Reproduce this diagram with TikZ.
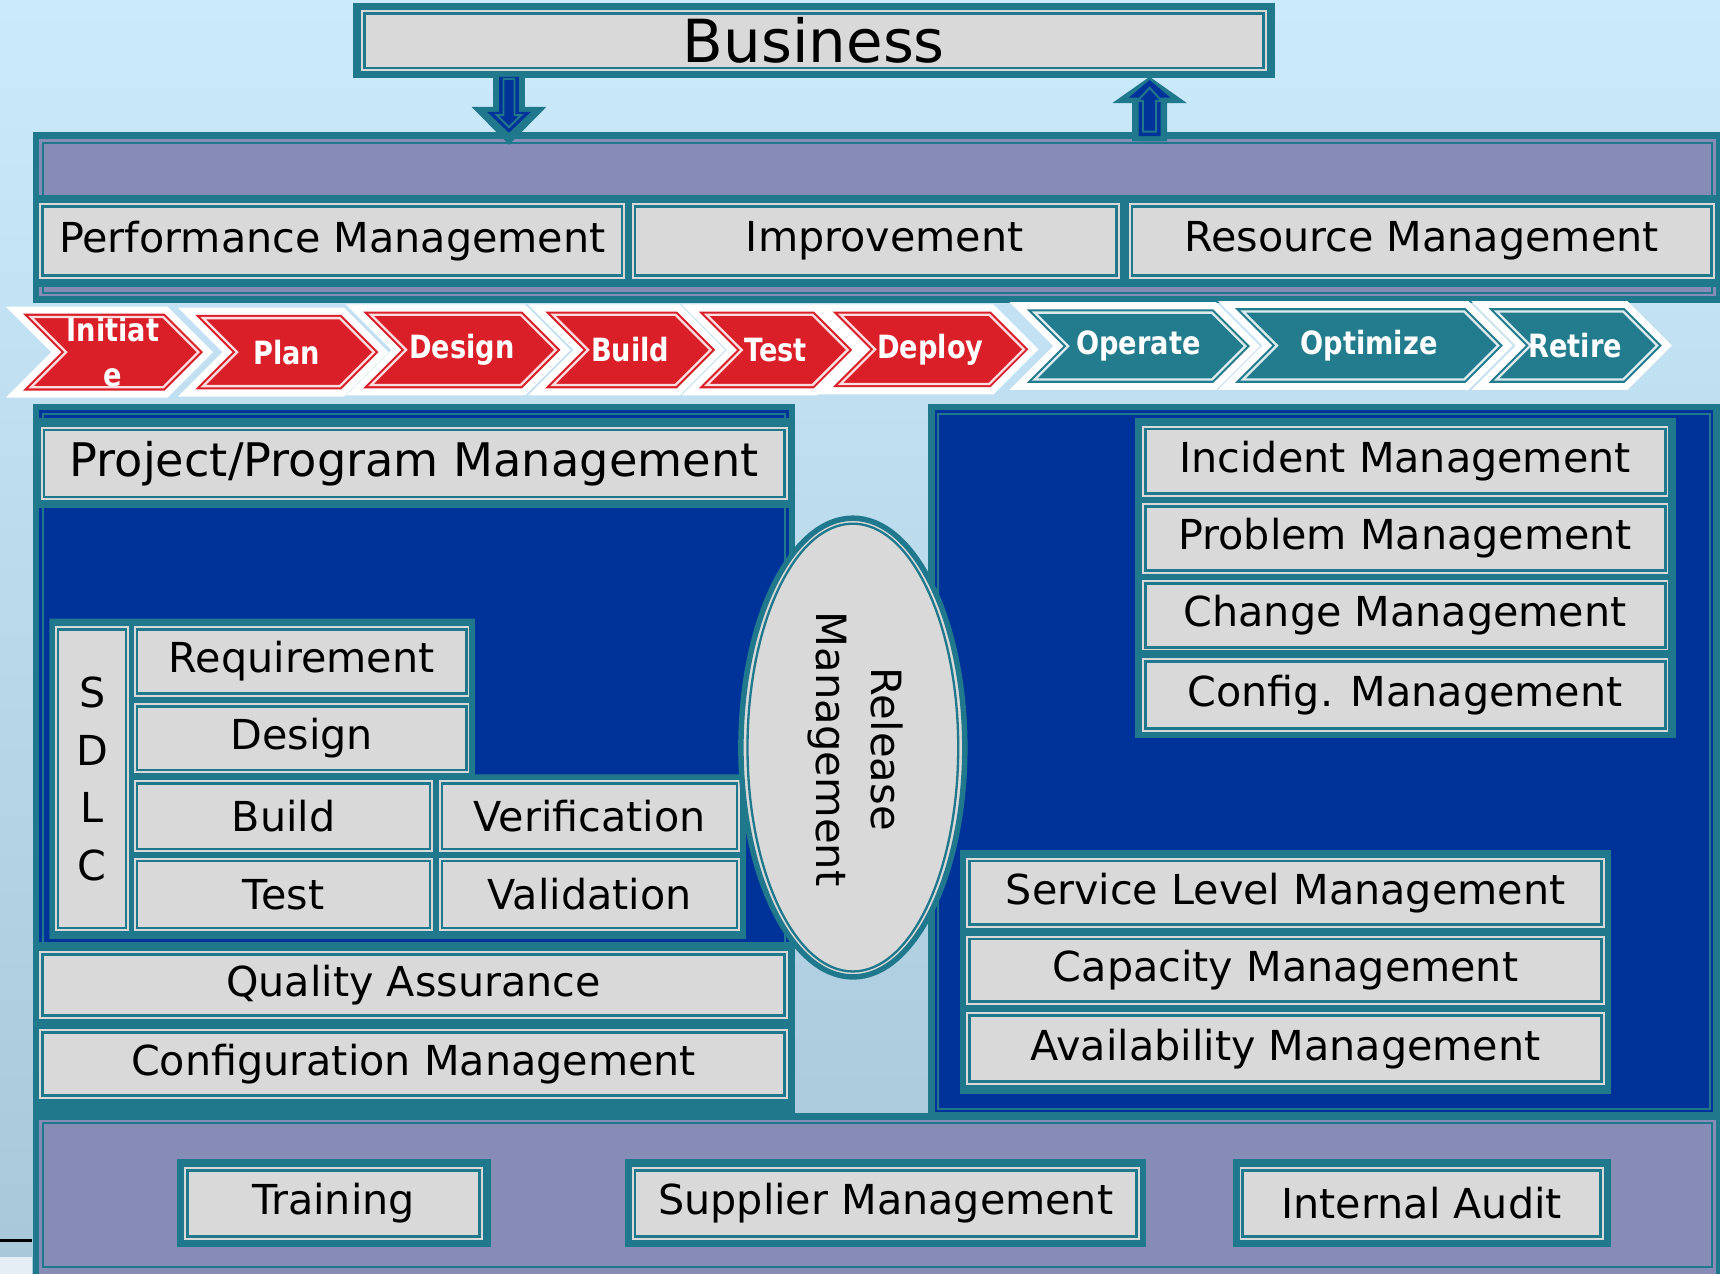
\documentclass[tikz,border=0pt]{standalone}
\usepackage{fontspec}
\setmainfont{DejaVu Sans}
\newfontfamily\chevfont{DejaVu Sans}[FakeStretch=0.85]
\usetikzlibrary{shapes.geometric}

\definecolor{frame}{RGB}{32,120,140}
\definecolor{boxgray}{RGB}{217,217,217}
\definecolor{purp}{RGB}{135,140,182}
\definecolor{dblue}{RGB}{0,51,153}
\definecolor{chred}{RGB}{218,31,40}
\definecolor{chteal}{RGB}{35,124,142}
\definecolor{bgtop}{RGB}{203,234,252}
\definecolor{bgbot}{RGB}{168,199,217}

\tikzset{
  gbox/.style={fill=boxgray, draw=none, inner sep=0pt, text=black,
    font=\fontsize{10.7}{13}\selectfont,
    path picture={\draw[frame, line width=0.7pt]
      ([shift={(0.03cm,-0.03cm)}]path picture bounding box.north west) rectangle
      ([shift={(-0.03cm,0.03cm)}]path picture bounding box.south east);}},
  chevtext/.style={text=white, inner sep=0pt, align=center,
    font=\chevfont\bfseries\fontsize{8.3}{11.7}\selectfont},
  thinframe/.style={frame, line width=0.5pt},
}

% #1 optional style, #2 name, #3 x1, #4 y1, #5 x2, #6 y2, #7 text
\newcommand\gb[7][]{%
  \node[gbox, minimum width={(#5-#3)*0.01cm}, minimum height={(#6-#4)*0.01cm}, #1]
    (#2) at ({(#3+#5)/2},{(#4+#6)/2}) {#7};}

% #1 name, #2 xL, #3 xR, #4 ytop, #5 ybot, #6 colour, #7 text
\newcommand\chev[7]{%
  \pgfmathsetmacro\ym{(#4+#5)/2}%
  \pgfmathsetmacro\dd{(#5-#4)/2}%
  \pgfmathsetmacro\xt{#3+\dd}%
  \draw[white, line width=0.13cm, line join=miter]
    (#2,#4) -- (#3,#4) -- (\xt,\ym) -- (#3,#5) -- (#2,#5) -- ({#2+\dd},\ym) -- cycle;
  \fill[#6]
    (#2,#4) -- (#3,#4) -- (\xt,\ym) -- (#3,#5) -- (#2,#5) -- ({#2+\dd},\ym) -- cycle;
  \draw[white!85!#6, line width=0.6pt, line join=miter]
    ({#2+7.2},{#4+3}) -- ({#3-1.2},{#4+3}) -- ({\xt-4.2},\ym) -- ({#3-1.2},{#5-3})
    -- ({#2+7.2},{#5-3}) -- ({#2+\dd+4.2},\ym) -- cycle;
  \node[chevtext] (#1) at ({(#2+\xt)/2},\ym) {#7};}

\begin{document}
\begin{tikzpicture}[x=0.01cm, y=-0.01cm]
\useasboundingbox (0,0) rectangle (1568,1161);
\clip (0,0) rectangle (1568,1161);
\shade[top color=bgtop, bottom color=bgbot] (0,0) rectangle (1568,1161);

% Business
\fill[frame] (322,3) rectangle (1162,71);
\gb[font=\fontsize{15.4}{18}\selectfont]{business}{329}{9}{1155}{65}{Business}

% top band
\fill[frame] (30,120) rectangle (1575,276);
\fill[purp] (36,127) rectangle (1564,270);
\draw[thinframe] (39,130) rectangle (1561,267);
\fill[frame] (30,178) rectangle (1575,262);
\gb{perf}{36}{185}{570}{254}{Performance Management}
\gb{impr}{576}{185}{1021}{254}{\hspace*{0.16cm}Improvement}
\gb{reso}{1029}{185}{1563}{254}{Resource Management}

% arrows
\fill[frame] (449.5,70) -- (478.5,70) -- (478.5,97.5) -- (498,97.5) -- (464,132)
  -- (430,97.5) -- (449.5,97.5) -- cycle;
\fill[dblue] (455,70) -- (473,70) -- (473,102) -- (484,102) -- (464,121)
  -- (444,102) -- (455,102) -- cycle;
\draw[frame, line width=0.5pt] (459,72) -- (469,72) -- (469,105) -- (475,105) -- (464,116)
  -- (453,105) -- (459,105) -- cycle;
\fill[frame] (1032,129) -- (1064,129) -- (1064,94) -- (1082,94) -- (1048,70)
  -- (1014,94) -- (1032,94) -- cycle;
\fill[dblue] (1038,124) -- (1058,124) -- (1058,89) -- (1067,89) -- (1048,73)
  -- (1029,89) -- (1038,89) -- cycle;
\draw[frame, line width=0.5pt] (1042,120) -- (1054,120) -- (1054,92) -- (1059,92) -- (1048,80)
  -- (1037,92) -- (1042,92) -- cycle;

% chevrons
\chev{c1}{21}{150}{286}{356}{chred}{Initiat\\e}
\chev{c2}{178}{311}{287}{355}{chred}{Plan}
\chev{c3}{331}{476}{284}{354}{chred}{Design}
\chev{c4}{497}{617}{284}{354}{chred}{Build}
\chev{c5}{637}{742}{284}{354}{chred}{Test}
\chev{c6}{759}{903}{284}{353}{chred}{Deploy}
\chev{c7}{936}{1106}{282}{349}{chteal}{Operate}
\chev{c8}{1126}{1336}{281}{349}{chteal}{Optimize}
\chev{c9}{1357}{1481}{281}{349}{chteal}{Retire}

% left panel
\fill[frame] (30,368) rectangle (725,1015);
\fill[dblue] (36,374) rectangle (719,1009);
\draw[thinframe] (39,377) rectangle (716,1006);
\fill[frame] (30,381) rectangle (725,463);
\gb[font=\fontsize{12}{14}\selectfont]{ppm}{37}{389}{718}{456}{Project/Program Management}
\fill[frame] (45,564) -- (433,564) -- (433,706) -- (680,706) -- (680,856) -- (45,856) -- cycle;
\gb[align=center, font=\fontsize{10.7}{14.9}\selectfont]{sdlc}{50}{571}{118}{849}{S\\D\\L\\C}
\gb{req}{122}{571}{428}{635}{Requirement}
\gb{des}{122}{641}{428}{705}{Design}
\gb{bld}{122}{711}{395}{777}{Build}
\gb{ver}{400}{711}{675}{777}{Verification}
\gb{tst}{122}{782}{395}{849}{Test}
\gb{val}{400}{782}{675}{849}{Validation}
\fill[frame] (30,859) rectangle (725,1010);
\gb{qa}{36}{867}{718}{929}{Quality Assurance}
\gb{cm}{36}{938}{718}{1002}{Configuration Management}

% right panel
\fill[frame] (846,368) rectangle (1575,1020);
\fill[dblue] (852,374) rectangle (1562,1014);
\draw[thinframe] (855,377) rectangle (1559,1011);
\fill[frame] (1035,381) rectangle (1528,673);
\gb{inc}{1041}{388}{1521}{453}{Incident Management}
\gb{prb}{1041}{459}{1521}{523}{Problem Management}
\gb{chg}{1041}{529}{1521}{593}{Change Management}
\gb{cfg}{1041}{600}{1521}{667}{Config. Management}
\fill[frame] (875,775) rectangle (1469,997);
\gb{slm}{881}{782}{1463}{846}{Service Level Management}
\gb{cap}{881}{853}{1463}{916}{Capacity Management}
\gb{avl}{881}{923}{1463}{989}{Availability Management}

% release management
\node[ellipse, fill=boxgray, draw=frame, line width=0.05cm, inner sep=0pt,
  minimum width=2.04cm, minimum height=4.18cm] (rel) at (777.5,681.5) {};
\draw[frame, line width=0.6pt] (rel.center) ellipse [x radius=0.96cm, y radius=2.04cm];
\node[rotate=-90, align=center, inner sep=0pt, font=\fontsize{10.8}{14.2}\selectfont]
  (reltext) at (780,683) {Release\\Management};

% bottom band
\fill[frame] (30,1015) rectangle (1575,1170);
\fill[purp] (36,1021) rectangle (1564,1161);
\draw[thinframe] (39,1024) rectangle (1561,1155);
\fill[frame] (161,1057) rectangle (448,1137);
\gb{trn}{168}{1064}{440}{1130}{Training}
\fill[frame] (570,1057) rectangle (1045,1137);
\gb{sup}{576}{1064}{1039}{1130}{Supplier Management}
\fill[frame] (1124,1057) rectangle (1469,1137);
\gb{aud}{1130}{1064}{1462}{1130}{Internal Audit}

% bottom-left slide fragments
\draw[black, line width=0.7pt] (0,1131) -- (29,1131);
\fill[white!70!bgbot] (0,1146) rectangle (29,1161);
\end{tikzpicture}
\end{document}
